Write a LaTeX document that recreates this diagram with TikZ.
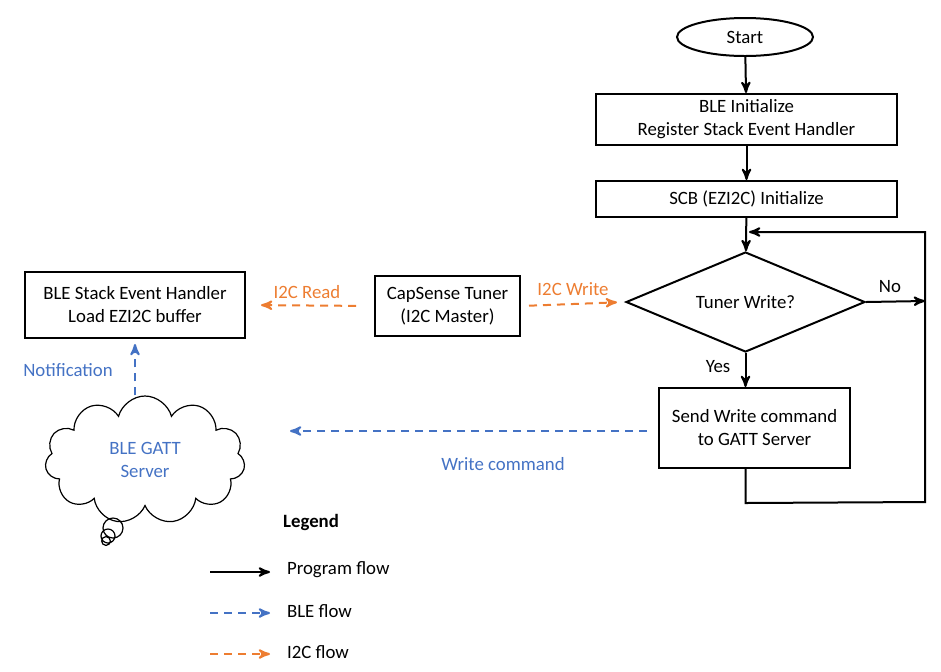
\documentclass[tikz,border=0pt]{standalone}
\usepackage{fontspec}
\setmainfont{Carlito}
\usetikzlibrary{arrows}
\usetikzlibrary{shapes.geometric,shapes.symbols}

\definecolor{bleblue}{HTML}{4472C4}
\definecolor{i2corange}{HTML}{ED7D31}

\tikzset{
 txt/.style={font=\fontsize{9.4}{11.5}\selectfont},
 flowbox/.style={txt, draw, line width=1pt, align=center, inner sep=0},
 prog/.style={black, line width=1pt, ->, >=stealth'},
 bleflow/.style={bleblue, line width=1pt, dash pattern=on 4pt off 3pt, ->, >=stealth'},
 i2cflow/.style={i2corange, line width=1pt, dash pattern=on 4pt off 3pt, ->, >=stealth'},
}

\begin{document}
\begin{tikzpicture}[x=0.5pt, y=-0.5pt]
\useasboundingbox (0,0) rectangle (941,671);
% program flow
\node[txt, ellipse, draw, line width=1pt, inner sep=0, minimum width=68pt, minimum height=19pt] (start) at (745,37) {Start};
\node[flowbox, minimum width=150.5pt, minimum height=25.5pt] (init) at (746.5,119.5) {BLE Initialize\\Register Stack Event Handler};
\node[flowbox, minimum width=150.5pt, minimum height=18pt] (scb) at (746.5,199) {SCB (EZI2C) Initialize};
\node[flowbox, diamond, aspect=2.4, minimum width=119.5pt, minimum height=50pt] (tuner) at (745.5,302) {Tuner Write?};
\node[flowbox, minimum width=95.5pt, minimum height=40pt] (send) at (754.5,428) {Send Write command\\to GATT Server};
\node[flowbox, minimum width=110pt, minimum height=33pt] (handler) at (135,305) {BLE Stack Event Handler\\Load EZI2C buffer};
\node[flowbox, minimum width=72.5pt, minimum height=30pt] (capsense) at (447.5,306) {CapSense Tuner\\(I2C Master)};
\node[txt, cloud, draw, line width=0.6pt, cloud puffs=11, aspect=1.8, minimum width=100pt, minimum height=64pt, text=bleblue, align=center] (gatt) at (145,460) {BLE GATT\\Server};
\draw[line width=0.6pt] (113,528) circle (5pt) (108,536) circle (3.5pt) (106,541) circle (2.2pt);

\coordinate (noend) at (925,301);
\coordinate (loopbr) at (925,502);
\coordinate (loopin) at (749,232);
\coordinate (wcend) at (290,431);

\draw[prog] (start) -- (init);
\draw[prog] (init) -- (scb);
\draw[prog] (scb) -- (tuner);
\draw[prog] (tuner.south) -- (tuner.south |- send.north);
\draw[prog] (tuner.east) -- (noend);
\draw[prog] (send.south -| tuner.south) -- ++(0,34) -- (loopbr) |- (loopin);

% I2C and BLE flow
\draw[i2cflow, shorten <=9pt, shorten >=7.5pt] (capsense.west) -- (handler.east);
\draw[i2cflow, shorten <=4pt, shorten >=4pt] (capsense.east) -- (tuner.west);
\draw[bleflow, shorten <=5.5pt] (send.west |- wcend) -- (wcend);
\draw[bleflow, shorten >=2.5pt] (handler.south |- gatt.north) -- (handler.south);

\node[txt] (yes) at (718,367) {Yes};
\node[txt] (no) at (890,287) {No};
\node[txt, text=i2corange] (readlbl) at (307,292) {I2C Read};
\node[txt, text=i2corange] (writelbl) at (573,289) {I2C Write};
\node[txt, text=bleblue] (wclbl) at (503,464) {Write command};
\node[txt, text=bleblue] (notelbl) at (68,370) {Notification};

% legend
\node[txt, font=\fontsize{9.4}{11.5}\selectfont\bfseries] (legend) at (311,522) {Legend};
\foreach \y/\sty/\lbl in {572/prog/Program flow, 613/bleflow/BLE flow, 654/i2cflow/I2C flow} {
 \draw[\sty] (210,\y) -- (270,\y);
 \node[txt, anchor=west] at (280,\y-2) {\lbl};
}
\end{tikzpicture}
\end{document}
